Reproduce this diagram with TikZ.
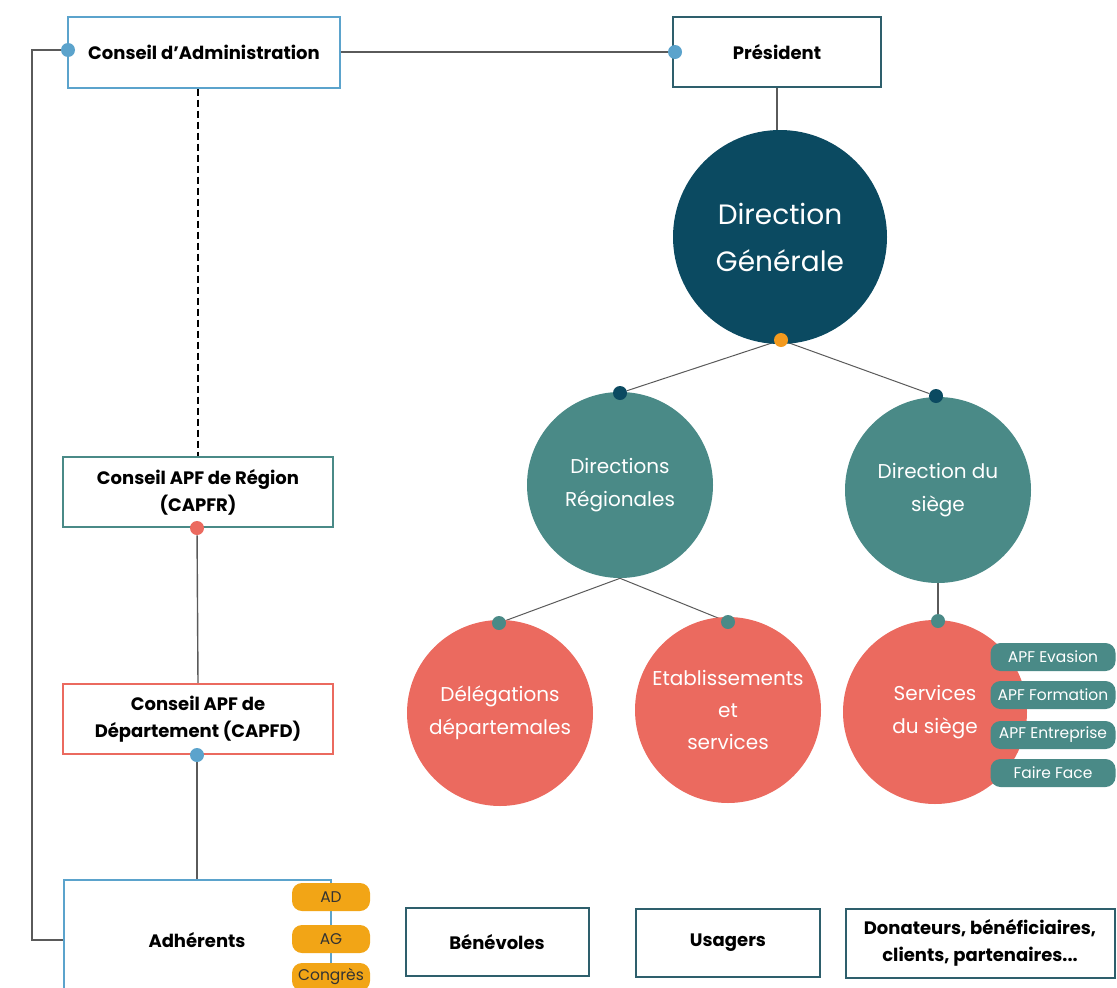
\documentclass[tikz,border=0pt]{standalone}
\usepackage{fontspec}
\setmainfont{Poppins}
\usetikzlibrary{shapes,backgrounds,positioning}
\definecolor{navy}{HTML}{0B4A61}
\definecolor{teal2}{HTML}{4A8A87}
\definecolor{salmon}{HTML}{EB6A5F}
\definecolor{skyblue}{HTML}{5BA3CC}
\definecolor{petrol}{HTML}{2E5F6C}
\definecolor{amber}{HTML}{F2A516}
\definecolor{dotorange}{HTML}{F39A1E}
\definecolor{wire}{HTML}{5A5A5A}

\begin{document}
\begin{tikzpicture}[x=1pt, y=-1pt, semithick]
\tikzstyle{block} = [rectangle, draw, fill=white, line width=2pt, align=center,
inner sep=0pt, font=\bfseries\fontsize{18}{27}\selectfont]
\tikzstyle{bubble} = [circle, fill, text=white, align=center, inner sep=0pt]
\tikzstyle{pill} = [rectangle, rounded corners=10pt, fill=teal2, text=white,
minimum width=125pt, minimum height=28pt, inner sep=0pt, font=\fontsize{15.5}{18}\selectfont]
\tikzstyle{tag} = [pill, fill=amber, text=black!80, minimum width=78pt]
\tikzstyle{dot} = [circle, fill, inner sep=0pt, minimum size=14pt]
\tikzstyle{line} = [draw, wire, line width=1.4pt]
\path[use as bounding box] (0,0) rectangle (1117,988);
\clip (0,0) rectangle (1117,988);

%% left column
\node[block, draw=skyblue, minimum width=272pt, minimum height=71pt] at (204,52) (CA){Conseil d'Administration};
\node[block, draw=teal2, minimum width=270pt, minimum height=70pt] at (198,492) (CR){Conseil APF de Région\\(CAPFR)};
\node[block, draw=salmon, minimum width=270pt, minimum height=70pt] at (198,719) (CD){Conseil APF de\\Département (CAPFD)};
\node[block, draw=skyblue, minimum width=267pt, minimum height=121pt] at (197,940) (ADH){Adhérents};
\node[tag] at (331,897) (AD){AD};
\node[tag] at (331,939) (AG){AG};
\node[tag] at (331,977) (CG){Congrès};

%% right part
\node[block, draw=petrol, minimum width=208pt, minimum height=70pt] at (777,52) (P){Président};
\node[bubble, fill=navy, minimum size=214pt, font=\fontsize{28}{47}\selectfont] at (780,237) (DG){Direction\\Générale};
\node[bubble, fill=teal2, minimum size=186pt, font=\fontsize{20}{33}\selectfont] at (620,485) (DR){Directions\\Régionales};
\node[bubble, fill=teal2, minimum size=186pt, font=\fontsize{20}{33}\selectfont] at (938,490) (DS){Direction du\\siège};
\node[bubble, fill=salmon, minimum size=186pt, font=\fontsize{20}{33}\selectfont] at (500,713) (DD){Délégations\\départemales};
\node[bubble, fill=salmon, minimum size=186pt, font=\fontsize{20}{32}\selectfont] at (728,710) (ES){Etablissements\\et\\services};
\node[bubble, fill=salmon, minimum size=184pt, font=\fontsize{20}{33}\selectfont] at (935,712) (SS){Services\\du siège};
\node[pill] at (1053,657) (EV){APF Evasion};
\node[pill] at (1053,695) (FO){APF Formation};
\node[pill] at (1053,735) (EN){APF Entreprise};
\node[pill] at (1053,773) (FF){Faire Face};

%% bottom row
\node[block, draw=petrol, minimum width=183pt, minimum height=68pt] at (497,942) (BEN){Bénévoles};
\node[block, draw=petrol, minimum width=184pt, minimum height=68pt] at (728,943) (USA){Usagers};
\node[block, draw=petrol, minimum width=269pt, minimum height=69pt] at (980,943) (DON){Donateurs, bénéficiaires,\\clients, partenaires...};

%% dots
\node[dot, fill=skyblue] at (68,50) (dCA){};
\node[dot, fill=skyblue] at (675,52) (dP){};
\node[dot, fill=salmon] at (197,528) (dCR){};
\node[dot, fill=skyblue] at (197,755) (dCD){};
\node[dot, fill=dotorange] at (781,340) (dG){};
\node[dot, fill=navy] at (620,393) (dR){};
\node[dot, fill=navy] at (936,396) (dS){};
\node[dot, fill=teal2] at (499,623) (dD){};
\node[dot, fill=teal2] at (728,622) (dE){};
\node[dot, fill=teal2] at (938,621) (dSS){};
\coordinate (lft) at (32,50);

%% arrows
\begin{pgfonlayer}{background}
\draw[line] (dCA) -- (lft) |- (ADH.west);
\draw[line] (CA.east) -- (dP);
\draw[line, black, line width=1.2pt, dash pattern=on 7pt off 4pt] (CR.north |- CA.south) -- (CR.north);
\draw[line] (dCR) -- (CD.north);
\draw[line] (dCD) -- (dCD |- ADH.north);
\draw[line] (P.south) -- (P.south |- DG.north);
\draw[line, line width=1pt] (dG) -- (dR);
\draw[line, line width=1pt] (dG) -- (dS);
\draw[line, line width=1pt] (DR.south) -- (dD);
\draw[line, line width=1pt] (DR.south) -- (dE);
\draw[line] (DS.south) -- (dSS);
\end{pgfonlayer}
\end{tikzpicture}
\end{document}
